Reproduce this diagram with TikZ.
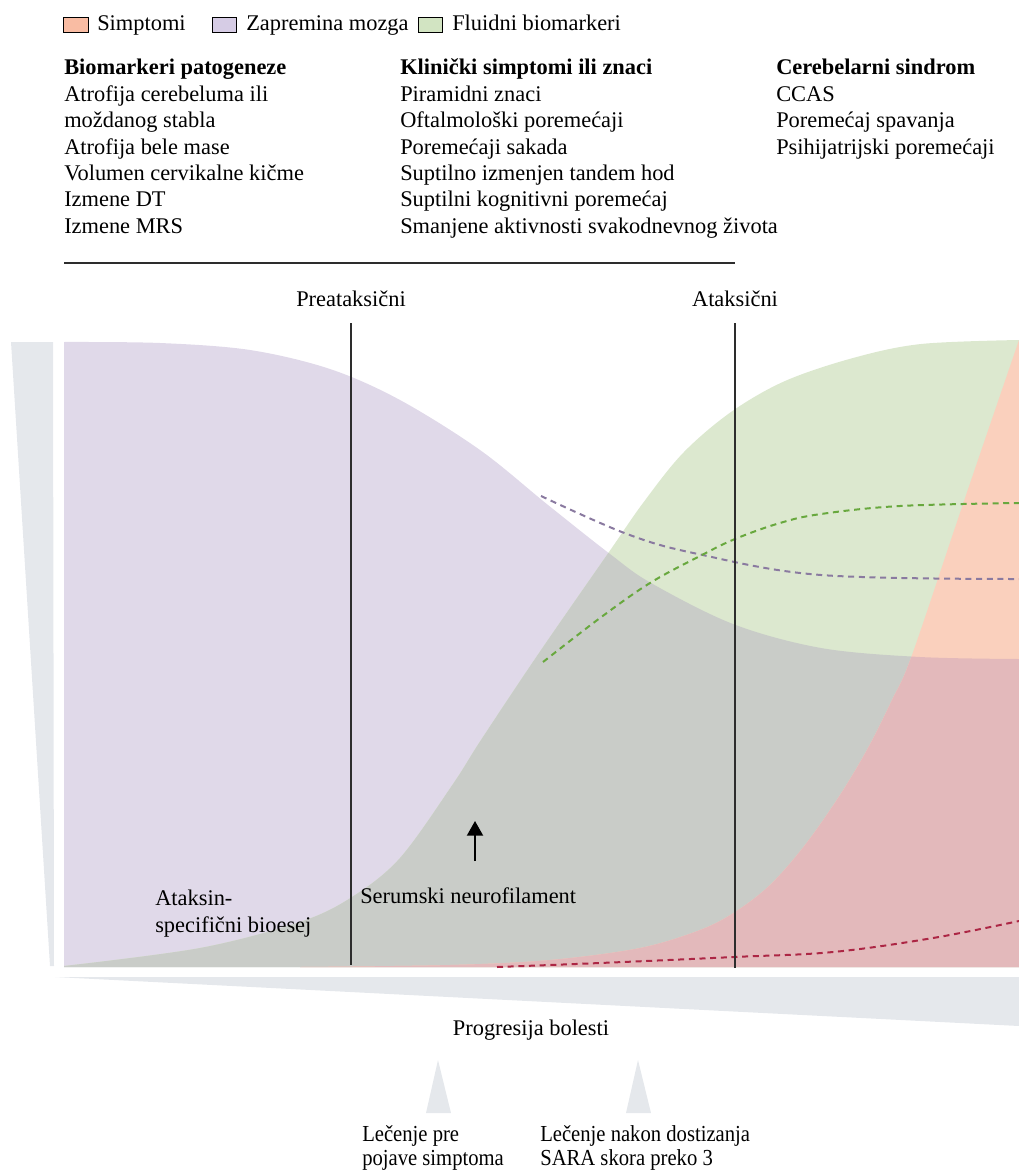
\documentclass[tikz,border=0pt]{standalone}
\usepackage{fontspec}
\setmainfont{Liberation Serif}
\newfontfamily\narrowserif{Liberation Serif}[FakeStretch=0.9]
\usetikzlibrary{arrows.meta}

\definecolor{lav}{RGB}{224,217,233}
\definecolor{grn}{RGB}{220,232,207}
\definecolor{ovl}{RGB}{201,204,200}
\definecolor{peach}{RGB}{250,208,189}
\definecolor{rose}{RGB}{227,185,187}
\definecolor{wedge}{RGB}{229,232,236}
\definecolor{dashlav}{RGB}{138,122,160}
\definecolor{dashgrn}{RGB}{104,168,62}
\definecolor{dashred}{RGB}{172,38,68}
\definecolor{legS}{RGB}{249,188,163}
\definecolor{legZ}{RGB}{214,204,229}
\definecolor{legF}{RGB}{210,228,194}
\definecolor{rule}{RGB}{45,45,45}

% region outlines (pixel grid, y grows downwards)
\def\lavpath{(64,967) -- (64,342) -- plot[smooth,tension=0.55] coordinates {(64,342) (160,343) (250,350) (330,369) (400,400) (480,450) (548,505) (610,554) (651,583) (733,624) (821,648) (920,657) (1019,659)} -- (1019,967) -- cycle}
\def\grnpath{(64,967) -- plot[smooth,tension=0.55] coordinates {(64,966) (200,948) (300,922) (352,897) (400,858) (453,784) (481,740) (539,653) (609,552) (643,503) (683,453) (731,412) (785,381) (853,358) (921,344) (1019,340)} -- (1019,967) -- cycle}
\def\sympath{(300,967) -- plot[smooth,tension=0.55] coordinates {(300,967) (450,965) (550,960) (640,948) (700,930) (735,912) (770,885) (805,845) (840,795) (868,748) (892,700) (912,655) (965,498) (1019,340)} -- (1019,967) -- cycle}

\tikzset{
  txt/.style={font=\fontsize{16.8}{19.5}\selectfont, inner sep=0pt, anchor=base west},
  ctxt/.style={txt, anchor=base},
  small/.style={font=\narrowserif\fontsize{17.2}{19.5}\selectfont, inner sep=0pt, anchor=base west},
  legbox/.style={draw=black, line width=0.8pt, minimum width=18.5pt, minimum height=11.5pt, inner sep=0pt},
  phase/.style={draw=rule, line width=1.1pt},
  trend/.style={line width=1.5pt, dash pattern=on 4.5pt off 3.5pt},
}

\begin{document}
\begin{tikzpicture}[x=0.75pt, y=-0.75pt]
\useasboundingbox (0,0) rectangle (1019,1173);

% legend
\node[legbox, fill=legS] (lgS) at (76,25) {};
\node[txt] (lgSt) at (97,31) {Simptomi};
\node[legbox, fill=legZ] (lgZ) at (224.5,25) {};
\node[txt] (lgZt) at (246,31) {Zapremina mozga};
\node[legbox, fill=legF] (lgF) at (430.5,25) {};
\node[txt] (lgFt) at (452,31) {Fluidni biomarkeri};

% three text columns
\node[txt] (h1) at (64,75) {\textbf{Biomarkeri patogeneze}};
\foreach \t [count=\i] in {Atrofija cerebeluma ili, moždanog stabla, Atrofija bele mase, Volumen cervikalne kičme, Izmene DT, Izmene MRS}
  \node[txt] (a\i) at (64,{75+26.4*\i}) {\t};
\node[txt] (h2) at (400,75) {\textbf{Klinički simptomi ili znaci}};
\foreach \t [count=\i] in {Piramidni znaci, Oftalmološki poremećaji, Poremećaji sakada, Suptilno izmenjen tandem hod, Suptilni kognitivni poremećaj, Smanjene aktivnosti svakodnevnog života}
  \node[txt] (b\i) at (400,{75+26.4*\i}) {\t};
\node[txt] (h3) at (776,75) {\textbf{Cerebelarni sindrom}};
\foreach \t [count=\i] in {CCAS, Poremećaj spavanja, Psihijatrijski poremećaji}
  \node[txt] (c\i) at (776,{75+26.4*\i}) {\t};

\coordinate (ruleL) at (64,263);
\coordinate (ruleR) at (735,263);
\draw[rule, line width=1.3pt] (ruleL) -- (ruleR);

% side wedges
\fill[wedge] (11,342) -- (53,342) -- (54,966) -- (50,966) -- cycle;
\fill[wedge] (55,977) -- (1019,977) -- (1019,1026) -- cycle;

% curves
\fill[lav] \lavpath;
\fill[grn] \grnpath;
\begin{scope}
  \clip \lavpath;
  \fill[ovl] \grnpath;
\end{scope}
\fill[peach] \sympath;
\begin{scope}
  \clip \lavpath;
  \fill[rose] \sympath;
\end{scope}

% trend lines
\draw[trend, dashlav] plot[smooth,tension=0.6] coordinates {(541,496) (627,534) (698,554) (821,575) (1019,579)};
\draw[trend, dashgrn] plot[smooth,tension=0.6] coordinates {(543,662) (600,618) (650,583) (700,556) (735,539) (780,523) (821,514) (900,506) (1019,503)};
\draw[trend, dashred] plot[smooth,tension=0.6] coordinates {(497,967) (600,963) (734,957) (833,952) (933,938) (1019,921)};

% phase markers
\node[ctxt] (pre) at (351,306) {Preataksični};
\node[ctxt] (atx) at (735,306) {Ataksični};
\coordinate (preTop) at (351,323);
\coordinate (preBot) at (351,965);
\coordinate (atxTop) at (735,323);
\coordinate (atxBot) at (735,968);
\draw[phase] (preTop) -- (preBot);
\draw[phase] (atxTop) -- (atxBot);

% in-plot labels
\node[txt] (ab1) at (155,905) {Ataksin-};
\node[txt] (ab2) at (155,932) {specifični bioesej};
\node[txt] (nfl) at (360,903) {Serumski neurofilament};
\coordinate (arrS) at (475,861);
\coordinate (arrE) at (475,821);
\draw[line width=1.5pt, -{Triangle[length=11pt, width=12pt]}] (arrS) -- (arrE);

% axis label and treatment markers
\node[ctxt] (prog) at (531,1035) {Progresija bolesti};
\fill[wedge] (438,1060) -- (451,1113) -- (426,1113) -- cycle;
\fill[wedge] (638,1060) -- (651,1113) -- (626,1113) -- cycle;
\node[small] (t1a) at (362,1141) {Lečenje pre};
\node[small] (t1b) at (362,1165) {pojave simptoma};
\node[small] (t2a) at (540,1141) {Lečenje nakon dostizanja};
\node[small] (t2b) at (540,1165) {SARA skora preko 3};
\end{tikzpicture}
\end{document}
